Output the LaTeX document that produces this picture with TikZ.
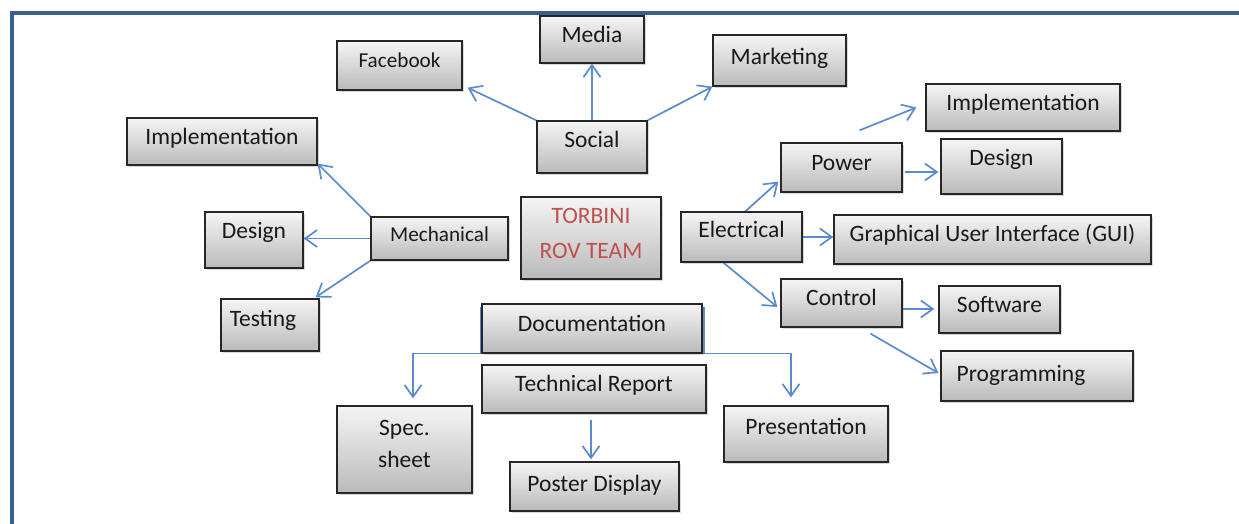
\documentclass[tikz,border=0pt]{standalone}
\usepackage{fontspec}
\setmainfont{Carlito}
\usetikzlibrary{arrows.meta,shadows,calc,backgrounds}

% one drawing unit = one pixel of the layout grid
\newdimen\pxu \pxu=0.5pt
% text placed relative to the box centre: #1 = horizontal shift, #2 = baseline lift
\newcommand\T[3]{\smash{\raisebox{#2\pxu}{\makebox[0pt]{\hspace*{#1\pxu}\hspace*{#1\pxu}#3}}}}
% box from corner (x1,y1) to corner (x2,y2), y measured downwards
\newcommand\bx[7][]{\node[box,#1,minimum width={(#5-#3)*0.5pt},minimum height={(#6-#4)*0.5pt}] (#2) at ({(#3+#5)/2},{(#4+#6)/2}) {#7};}

\definecolor{framecol}{RGB}{59,96,144}
\definecolor{linkcol}{RGB}{90,140,205}
\definecolor{titlered}{RGB}{192,80,77}

\tikzset{
  box/.style={draw=black!85, line width=0.65pt, inner sep=0pt,
    top color=black!4, bottom color=black!27,
    drop shadow={shadow xshift=1pt, shadow yshift=-1pt, opacity=0.3},
    text=black!90, font=\fontsize{11.75pt}{17.5pt}\selectfont},
  small/.style={font=\fontsize{10.6pt}{14pt}\selectfont},
  link/.style={draw=linkcol, line width=0.85pt,
    -{Straight Barb[length=6pt,width=8.5pt,line width=0.85pt]}},
  frameline/.style={draw=framecol, line width=2pt}
}

\begin{document}
\begin{tikzpicture}[x=0.5pt,y=-0.5pt]
\useasboundingbox (0,0) rectangle (1239,524);

% social branch
\bx[small]{fb}{337}{41}{462}{90}{\T{0}{-2.5}{Facebook}}
\bx{media}{540}{16}{644}{63}{\T{0}{-3.5}{Media}}
\bx{mkt}{713}{35}{846}{86}{\T{0}{-4.5}{Marketing}}
\bx{social}{537}{121}{647}{173}{\T{0}{-1}{Social}}

% mechanical branch
\bx{implL}{127}{118}{317}{165}{\T{0}{-3.5}{Implementation}}
\bx[small]{mech}{371}{217}{508}{260}{\T{0}{-3.5}{Mechanical}}
\bx{designL}{205}{212}{303}{268}{\T{0}{1}{Design}}
\bx{testing}{221}{299}{319}{351}{\T{-7}{-2}{Testing}}

% team title
\bx[text=titlered]{title}{521}{197}{661}{279}{\T{0}{-21}{\begin{tabular}[b]{@{}c@{}}TORBINI\\ROV TEAM\end{tabular}}}

% electrical branch
\bx{elec}{681}{212}{802}{262}{\T{0}{-1}{Electrical}}
\bx{power}{781}{143}{902}{192}{\T{0}{-3.5}{Power}}
\bx{designR}{941}{139}{1062}{194}{\T{0}{0.5}{Design}}
\bx{implR}{926}{84}{1120}{131}{\T{0}{-3.5}{Implementation}}
\bx{gui}{834}{215}{1151}{264}{\T{0}{-2.5}{Graphical User Interface (GUI)}}
\bx{control}{781}{279}{902}{327}{\T{0}{-3}{Control}}
\bx{software}{939}{286}{1060}{333}{\T{0}{-3.5}{Software}}
\bx{prog}{941}{351}{1133}{401}{\T{-16}{-5}{Programming}}

% documentation branch
\bx{doc}{482}{304}{702}{353}{\T{0}{-3.5}{Documentation}}
\bx{tech}{482}{365}{706}{413}{\T{0}{-3}{Technical Report}}
\bx{spec}{337}{406}{472}{493}{\T{0}{-18.5}{\begin{tabular}[b]{@{}c@{}}Spec.\\[-1pt]sheet\end{tabular}}}
\bx{poster}{510}{462}{679}{511}{\T{0}{-4.5}{Poster Display}}
\bx{pres}{724}{406}{888}{462}{\T{0}{0}{Presentation}}

\begin{scope}[on background layer]
  \fill[white] (0,0) rectangle (1239,524);
  \draw[frameline] (12,524) -- (12,13) -- (1239,13);

  \draw[link] (social.north) -- (media.south);
  \draw[link] (social.north west) -- ($(fb.south east)+(5,-3)$);
  \draw[link] (social.north east) -- (mkt.south west);

  \draw[link] (mech.north west) -- ($(implL.south east)+(0,-2)$);
  \draw[link] (mech.west) -- (mech.west -| designL.east);
  \draw[link] (mech.south west) -- ($(testing.north east)+(-4,-1)$);

  \draw[link] ($(elec.north west)+(65,0)$) -- ($(power.south west)+(-2,-11)$);
  \draw[link] (elec.east) -- (elec.east -| gui.west);
  \draw[link] ($(elec.south west)+(43,0)$) -- ($(control.west)+(-3,4)$);
  \draw[link] ($(power.north)+(18,-12)$) -- ($(implR.west)+(-9,0)$);
  \draw[link] ($(power.east)+(2,4.5)$) -- ($(designR.west |- power.east)+(-2,4.5)$);
  \draw[link] ($(control.east)+(-2,6)$) -- ($(software.west |- control.east)+(-4,6)$);
  \draw[link] ($(control.south)+(29,6)$) -- ($(prog.west)+(-2,-3)$);

  \draw[link] ($(doc.north west)+(-1,4)$) -- ($(doc.south west)+(-1,0)$) -| ($(spec.north)+(8.5,-7)$);
  \draw[link] ($(doc.north east)+(1,4)$) -- ($(doc.south east)+(1,0)$) -| ($(pres.north)+(-15,-8)$);
  \draw[link] ($(tech.south)+(-3,6)$) -- ($(poster.north)+(-3.5,-2)$);
\end{scope}
\end{tikzpicture}
\end{document}
